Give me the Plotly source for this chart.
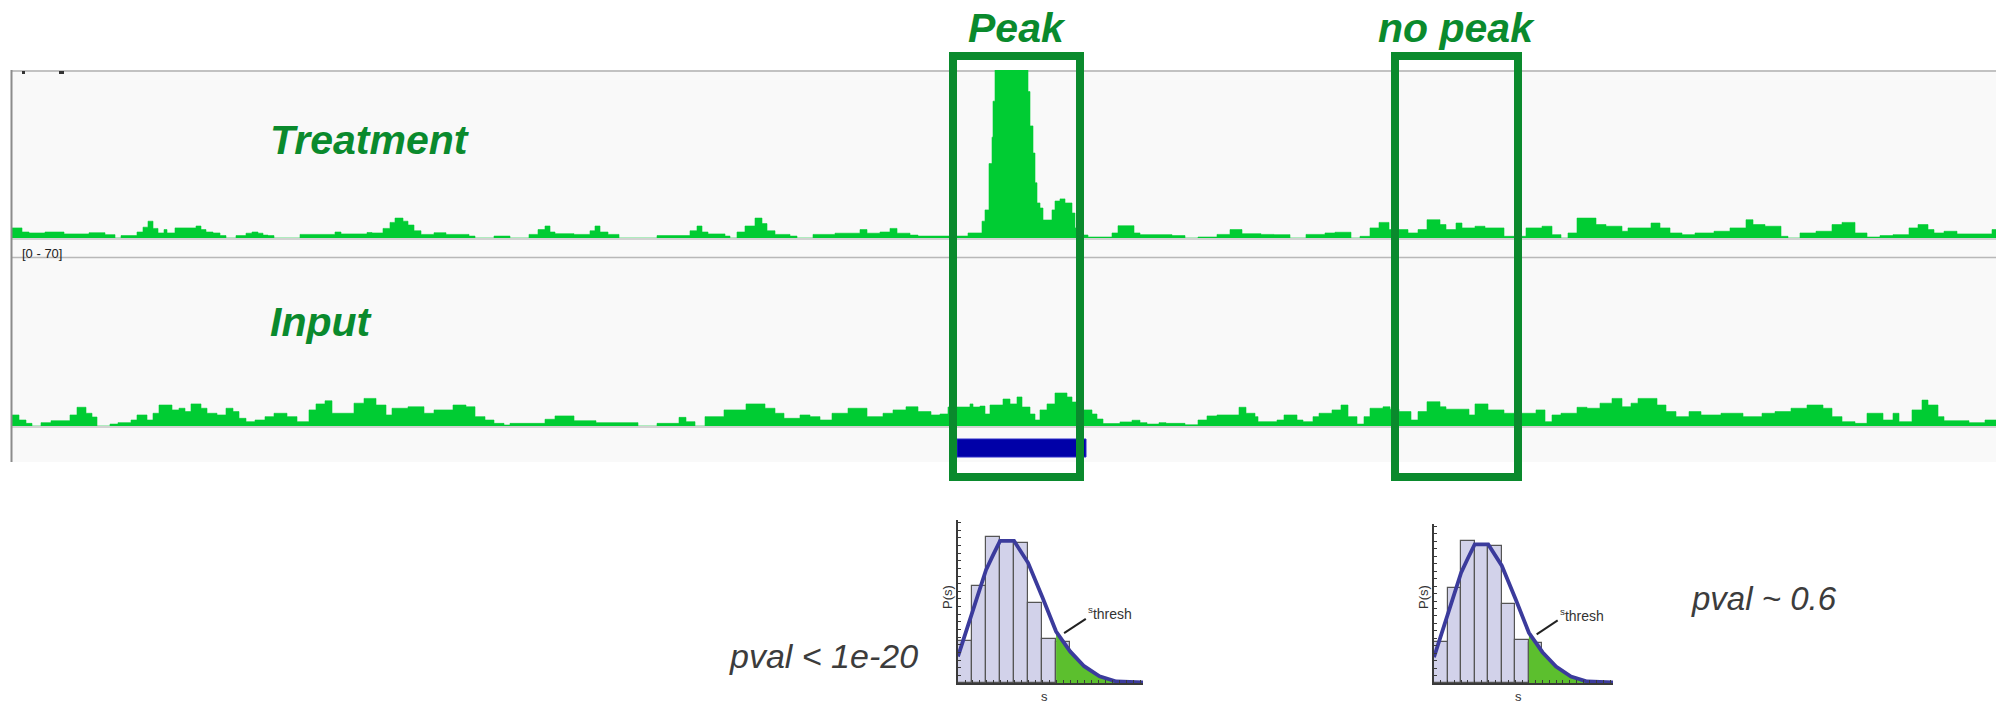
import plotly.graph_objects as go

W, H = 1996, 704

# ---------------------------------------------------------------------------
# Genome-browser window: positions are browser columns of the locus view
# ---------------------------------------------------------------------------
WINDOW = [11, 1996]
DATA_RANGE = [0, 70]

# Treatment (ChIP) coverage, step function: bin start -> read depth
treat_start = [
    11, 22, 29, 45, 64, 89, 105, 115, 121, 137,
    143, 148, 153, 158, 164, 167, 175, 196, 201, 206,
    213, 220, 226, 236, 246, 252, 258, 263, 268, 274,
    300, 335, 341, 367, 372, 383, 390, 395, 403, 408,
    414, 421, 434, 446, 469, 475, 494, 510, 529, 538,
    545, 550, 555, 574, 590, 595, 600, 608, 619, 657,
    690, 697, 702, 708, 725, 730, 737, 745, 755, 762,
    767, 775, 790, 797, 813, 835, 860, 867, 880, 890,
    897, 910, 918, 957, 968, 982, 985, 989, 992, 993,
    995, 1028, 1030, 1033, 1035, 1037, 1040, 1043, 1052, 1055,
    1060, 1065, 1072, 1075, 1083, 1088, 1112, 1118, 1134, 1140,
    1172, 1185, 1198, 1217, 1230, 1242, 1261, 1274, 1290, 1306,
    1325, 1335, 1351, 1360, 1370, 1379, 1389, 1408, 1418, 1427,
    1440, 1446, 1456, 1462, 1475, 1485, 1504, 1526, 1542, 1552,
    1561, 1568, 1577, 1596, 1606, 1622, 1628, 1651, 1660, 1670,
    1682, 1695, 1714, 1730, 1746, 1753, 1765, 1781, 1788, 1800,
    1816, 1832, 1842, 1855, 1867, 1880, 1893, 1909, 1918, 1928,
    1934, 1944, 1957, 1992,
]
treat_depth = [
    4.2, 2.5, 2.1, 2.5, 1.7, 2.2, 1.4, 0, 1.0, 2.5,
    4.5, 7.0, 4.0, 2.1, 3.5, 2.1, 4.2, 5.0, 3.5, 2.5,
    2.1, 1.0, 0, 1.0, 2.0, 2.5, 2.0, 1.2, 1.0, 0,
    1.5, 2.5, 1.7, 2.3, 2.1, 4.0, 6.5, 8.3, 7.0, 5.4,
    3.0, 1.5, 2.2, 1.5, 0.8, 0, 0.8, 0, 1.5, 3.5,
    5.0, 2.5, 1.8, 1.5, 3.0, 5.0, 2.5, 1.5, 0, 1.0,
    3.0, 5.0, 2.5, 1.7, 0.8, 0, 2.5, 5.0, 8.3, 6.0,
    3.0, 1.5, 0.8, 0, 1.5, 2.0, 3.5, 2.0, 2.5, 4.0,
    2.0, 1.2, 0.8, 0.8, 2.1, 7.0, 11.7, 31.0, 42.0, 57.0,
    90.0, 61.0, 46.7, 35.4, 23.0, 14.6, 12.5, 7.5, 11.7, 15.4,
    16.3, 14.6, 10.4, 4.2, 1.25, 0.4, 2.1, 5.1, 2.1, 1.4,
    1.0, 0, 0.4, 1.5, 3.5, 1.8, 1.5, 1.4, 0, 1.5,
    2.1, 2.4, 0, 0.7, 4.2, 6.5, 3.5, 2.1, 3.5, 7.6,
    5.6, 3.5, 6.25, 4.2, 4.9, 4.2, 0.7, 4.2, 4.9, 1.4,
    0, 2.1, 8.3, 5.6, 4.9, 2.8, 4.2, 6.25, 4.2, 2.1,
    1.4, 2.1, 2.8, 4.2, 7.6, 5.6, 4.9, 0.7, 0, 2.1,
    2.8, 5.6, 6.5, 2.1, 0.4, 1.0, 1.4, 4.2, 5.6, 3.5,
    2.1, 2.8, 1.7, 3.5,
]

# Input (control) coverage, step function: bin start -> read depth
input_start = [
    11, 19, 26, 32, 41, 51, 70, 77, 86, 92,
    97, 110, 118, 131, 137, 147, 153, 159, 172, 179,
    185, 191, 201, 207, 217, 226, 233, 239, 246, 255,
    265, 274, 287, 297, 309, 316, 325, 332, 354, 364,
    376, 386, 392, 408, 424, 434, 453, 466, 475, 485,
    494, 504, 510, 545, 555, 574, 596, 638, 657, 679,
    686, 695, 705, 724, 746, 765, 775, 784, 800, 810,
    820, 832, 848, 867, 883, 893, 906, 918, 931, 940,
    948, 970, 973, 980, 985, 990, 1003, 1010, 1017, 1022,
    1030, 1035, 1040, 1047, 1055, 1067, 1072, 1077, 1083, 1092,
    1097, 1103, 1120, 1132, 1140, 1147, 1159, 1166, 1185, 1198,
    1207, 1217, 1239, 1246, 1255, 1258, 1277, 1284, 1297, 1303,
    1313, 1319, 1332, 1341, 1348, 1357, 1364, 1370, 1383, 1390,
    1399, 1411, 1418, 1427, 1440, 1446, 1469, 1475, 1488, 1504,
    1526, 1536, 1545, 1552, 1561, 1577, 1587, 1600, 1612, 1622,
    1631, 1638, 1657, 1666, 1676, 1689, 1701, 1721, 1743, 1762,
    1775, 1791, 1807, 1823, 1832, 1842, 1855, 1867, 1883, 1893,
    1899, 1912, 1922, 1928, 1938, 1944, 1969, 1985,
]
input_depth = [
    4.6, 2.5, 1.1, 0, 1.4, 2.2, 4.6, 7.8, 5.3, 3.75,
    0, 0.8, 1.4, 2.5, 4.6, 2.5, 5.3, 8.75, 6.7, 7.4,
    6.0, 9.2, 7.4, 5.3, 4.6, 7.4, 6.0, 3.2, 1.8, 2.5,
    3.9, 5.3, 3.9, 1.8, 6.7, 9.2, 10.5, 5.3, 9.5, 11.5,
    8.75, 4.6, 7.4, 8.0, 5.3, 6.7, 8.75, 8.0, 3.9, 2.5,
    1.1, 0.4, 1.1, 2.8, 4.2, 2.2, 1.4, 0, 1.1, 3.6,
    1.8, 0, 3.9, 6.7, 9.2, 7.4, 5.3, 3.2, 4.6, 3.9,
    2.5, 5.3, 7.4, 3.9, 5.3, 6.7, 8.0, 6.0, 4.6, 5.0,
    7.9, 9.2, 7.9, 8.3, 5.0, 8.75, 11.25, 9.2, 12.1, 7.9,
    5.0, 2.5, 6.7, 9.2, 13.75, 12.1, 10.0, 8.0, 6.7, 5.0,
    2.9, 1.0, 1.7, 2.4, 1.4, 0.8, 1.4, 1.1, 0.5, 2.5,
    4.2, 4.6, 7.8, 5.3, 3.9, 1.8, 2.5, 4.6, 2.5, 1.8,
    3.9, 5.3, 6.7, 8.75, 3.9, 0.8, 3.9, 7.4, 8.0, 7.0,
    6.0, 2.5, 6.0, 10.1, 8.0, 7.0, 4.6, 9.2, 6.7, 5.3,
    5.3, 6.7, 1.8, 4.6, 5.3, 7.8, 7.4, 9.5, 11.5, 8.0,
    9.5, 11.5, 8.75, 6.0, 3.9, 6.0, 4.6, 5.3, 3.9, 5.3,
    6.0, 7.4, 8.75, 7.4, 3.9, 1.8, 1.1, 5.3, 2.5, 5.3,
    1.8, 6.7, 10.8, 8.75, 3.9, 2.2, 1.4, 2.5,
]

# Called peak interval (feature track)
peak_call = [957, 1086]

# Highlighted regions: label, start, end
region_label = ["Peak", "no peak"]
region_start = [953, 1395]
region_end = [1080, 1518]

# Null distribution of the window score s
hist_center = [0.5, 1.5, 2.5, 3.5, 4.5, 5.5, 6.5, 7.5]
hist_freq = [0.083, 0.191, 0.286, 0.278, 0.275, 0.158, 0.086, 0.080]
curve_s = [0, 1, 2, 2.5, 3, 4, 5, 6, 7, 8, 9, 10.1, 11.3, 13.2]
curve_p = [0.052, 0.137, 0.222, 0.251, 0.279, 0.279, 0.236, 0.170,
           0.101, 0.062, 0.033, 0.013, 0.003, 0.001]
S_THRESH = 7
S_MAX = 13.2
P_MAX = 0.32
pval_text = ["pval < 1e-20", "pval ~ 0.6"]

# ---------------------------------------------------------------------------
GREEN_SIGNAL = "#00cc33"
GREEN_MARK = "#0a8a2d"
FONT = "Liberation Sans, Arial, Helvetica, sans-serif"


def fx(px):
    return px / W


def fy(py):
    return 1 - py / H


def steps(starts, depth, end):
    return list(starts) + [end], list(depth) + [depth[-1]]


fig = go.Figure()

# coverage tracks
for yax, starts, depth in (("y", treat_start, treat_depth),
                           ("y2", input_start, input_depth)):
    xs, ys = steps(starts, depth, WINDOW[1])
    fig.add_trace(go.Scatter(
        x=xs, y=ys, mode="lines", xaxis="x", yaxis=yax,
        line=dict(shape="hv", width=0.6, color=GREEN_SIGNAL),
        fill="tozeroy", fillcolor=GREEN_SIGNAL, hoverinfo="skip",
    ))

# null-distribution panels
tail_s = [s for s in curve_s if s >= S_THRESH]
tail_p = [p for s, p in zip(curve_s, curve_p) if s >= S_THRESH]
for xa, ya in (("x3", "y3"), ("x4", "y4")):
    fig.add_trace(go.Bar(
        x=hist_center, y=hist_freq, width=1, xaxis=xa, yaxis=ya,
        marker=dict(color="#d2d2ea", line=dict(color="#555555", width=1.2)),
        hoverinfo="skip",
    ))
    fig.add_trace(go.Scatter(
        x=tail_s, y=tail_p, mode="lines", xaxis=xa, yaxis=ya,
        line=dict(width=0, color="#5cbf2e"), fill="tozeroy",
        fillcolor="#5cbf2e", hoverinfo="skip",
    ))
    fig.add_trace(go.Scatter(
        x=curve_s, y=curve_p, mode="lines", xaxis=xa, yaxis=ya,
        line=dict(width=3.8, color="#3b3b9c"), hoverinfo="skip",
    ))

hidden = dict(visible=False, fixedrange=True)
hist_axis = dict(showline=True, linecolor="#3a3a3a", linewidth=1.5,
                 ticks="inside", ticklen=3, tickwidth=1, tickcolor="#3a3a3a",
                 showticklabels=False, showgrid=False, zeroline=False,
                 fixedrange=True)

fig.update_layout(
    width=W, height=H, margin=dict(l=0, r=0, t=0, b=0),
    paper_bgcolor="white", plot_bgcolor="rgba(0,0,0,0)",
    showlegend=False, bargap=0,
    xaxis=dict(domain=[fx(11), 1], range=WINDOW, **hidden),
    yaxis=dict(domain=[fy(238), fy(70)], range=DATA_RANGE, **hidden),
    yaxis2=dict(domain=[fy(426), fy(258)], range=DATA_RANGE, anchor="x", **hidden),
    xaxis3=dict(domain=[fx(958), fx(1143)], range=[0, S_MAX], anchor="y3",
                tick0=0, dtick=0.5, **hist_axis),
    yaxis3=dict(domain=[fy(683), fy(520)], range=[0, P_MAX], anchor="x3",
                tick0=0, dtick=0.015, **hist_axis),
    xaxis4=dict(domain=[fx(1434), fx(1613)], range=[0, S_MAX], anchor="y4",
                tick0=0, dtick=0.5, **hist_axis),
    yaxis4=dict(domain=[fy(683), fy(524)], range=[0, P_MAX], anchor="x4",
                tick0=0, dtick=0.015, **hist_axis),
)

shapes = [
    # browser panel
    dict(type="rect", xref="paper", yref="paper", x0=fx(11), x1=1,
         y0=fy(462), y1=fy(70), fillcolor="#f9f9f9", line_width=0, layer="below"),
    dict(type="line", xref="paper", yref="paper", x0=fx(11), x1=1,
         y0=fy(71), y1=fy(71), line=dict(color="#c2c2c2", width=2), layer="below"),
    dict(type="line", xref="paper", yref="paper", x0=fx(11), x1=1,
         y0=fy(239), y1=fy(239), line=dict(color="#d2d2d2", width=2), layer="below"),
    dict(type="line", xref="paper", yref="paper", x0=fx(11), x1=1,
         y0=fy(257.5), y1=fy(257.5), line=dict(color="#b8b8b8", width=1.5), layer="below"),
    dict(type="line", xref="paper", yref="paper", x0=fx(11), x1=1,
         y0=fy(427), y1=fy(427), line=dict(color="#d2d2d2", width=2), layer="below"),
    dict(type="line", xref="paper", yref="paper", x0=fx(11.5), x1=fx(11.5),
         y0=fy(462), y1=fy(70), line=dict(color="#8c8c8c", width=2)),
    dict(type="rect", xref="paper", yref="paper", x0=fx(22), x1=fx(25),
         y0=fy(74), y1=fy(71), fillcolor="#333333", line_width=0),
    dict(type="rect", xref="paper", yref="paper", x0=fx(59), x1=fx(64),
         y0=fy(74), y1=fy(71), fillcolor="#333333", line_width=0),
    # called peak
    dict(type="rect", xref="x", yref="paper", x0=peak_call[0], x1=peak_call[1],
         y0=fy(457), y1=fy(439), fillcolor="#0000a8",
         line=dict(color="#2c2cc8", width=1)),
]
for x0, x1 in zip(region_start, region_end):
    shapes.append(dict(type="rect", xref="x", yref="paper", x0=x0, x1=x1,
                       y0=fy(477), y1=fy(56), line=dict(color=GREEN_MARK, width=8),
                       fillcolor="rgba(0,0,0,0)", layer="above"))
for xa, ya in (("x3", "y3"), ("x4", "y4")):
    shapes.append(dict(type="line", xref=xa, yref=ya, x0=7.57, x1=9.12,
                       y0=0.098, y1=0.126, line=dict(color="#222222", width=2)))
fig.update_layout(shapes=shapes)

label_font = dict(family=FONT, size=41, color=GREEN_MARK,
                  weight="bold", style="italic")
ann = []
for lab, x0, x1 in zip(region_label, region_start, region_end):
    ann.append(dict(text=lab, xref="x", yref="paper", x=(x0 + x1) / 2, y=fy(28),
                    showarrow=False, xanchor="center", yanchor="middle",
                    font=label_font))
for lab, py in (("Treatment", 140), ("Input", 322)):
    ann.append(dict(text=lab, xref="paper", yref="paper", x=fx(268), y=fy(py),
                    showarrow=False, xanchor="left", yanchor="middle",
                    font=label_font))
ann.append(dict(text="[0 - 70]", xref="paper", yref="paper", x=fx(20), y=fy(253),
                showarrow=False, xanchor="left", yanchor="middle",
                font=dict(family=FONT, size=13, color="#222222")))
for xa, axis_px in (("x3", 958), ("x4", 1434)):
    ann.append(dict(text="P(s)", xref="paper", yref="paper", x=fx(axis_px - 11),
                    y=fy(597), textangle=-90, showarrow=False,
                    xanchor="center", yanchor="middle",
                    font=dict(family=FONT, size=13, color="#333333")))
    ann.append(dict(text="s", xref=xa, yref="paper", x=6.2, y=fy(696),
                    showarrow=False, xanchor="center", yanchor="middle",
                    font=dict(family=FONT, size=13, color="#333333")))
    ann.append(dict(text="<sup>s</sup>thresh", xref=xa, yref="y" + xa[1:],
                    x=9.15, y=0.137, showarrow=False, xanchor="left",
                    yanchor="middle",
                    font=dict(family=FONT, size=14, color="#333333")))
ann.append(dict(text=pval_text[0], xref="paper", yref="paper", x=fx(920), y=fy(656),
                showarrow=False, xanchor="right", yanchor="middle",
                font=dict(family=FONT, size=34, color="#3c3c3c", style="italic")))
ann.append(dict(text=pval_text[1], xref="paper", yref="paper", x=fx(1689), y=fy(598),
                showarrow=False, xanchor="left", yanchor="middle",
                font=dict(family=FONT, size=33, color="#3c3c3c", style="italic")))
fig.update_layout(annotations=ann)

fig.write_html("out.html")
